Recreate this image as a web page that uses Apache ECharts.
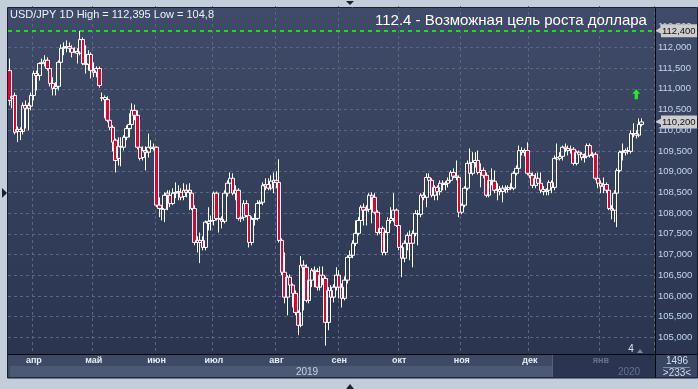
<!DOCTYPE html>
<html>
<head>
<meta charset="utf-8">
<script src="https://cdn.jsdelivr.net/npm/echarts@6/dist/echarts.min.js"></script>
<style>
html,body{margin:0;padding:0;background:#c4cedb;}
#chart{width:698px;height:389px;}
</style>
</head>
<body>
<div id="chart"></div>
<script>
// ---- data (USD/JPY daily candles) ----
const opens = [
111.44,110.77,110.84,109.97,110.02,109.97,110.60,110.53,110.58,110.84,
111.37,111.32,111.61,111.64,111.69,111.49,111.13,111.01,111.06,111.64,
111.98,112.00,112.02,111.98,111.88,111.90,111.86,112.19,111.61,111.59,
111.83,111.44,111.40,111.49,110.77,110.79,110.74,110.24,110.07,109.76,
109.32,109.61,109.59,109.83,110.04,110.14,110.48,110.36,109.59,109.34,
109.51,109.47,109.59,109.56,109.59,108.19,108.11,108.09,108.43,108.43,
108.23,108.48,108.50,108.50,108.40,108.55,108.50,108.48,108.11,107.29,
107.34,107.34,107.17,107.75,107.80,107.82,108.48,107.87,107.85,107.80,
108.48,108.72,108.84,108.48,108.55,107.87,107.90,108.23,107.94,107.29,
107.85,107.87,108.23,108.26,108.65,108.69,108.60,108.74,108.79,108.74,
107.34,106.57,105.97,106.45,106.26,106.06,105.60,105.29,106.74,106.69,
105.89,106.38,106.62,106.59,106.21,106.50,106.42,105.36,106.13,105.97,
106.21,106.50,106.21,105.94,106.38,106.93,106.98,107.27,107.51,107.82,
108.14,108.07,108.09,108.43,108.38,108.02,107.53,107.63,107.05,107.53,
107.82,107.87,108.07,107.70,107.17,106.91,107.27,107.46,107.27,107.51,
107.99,107.97,108.43,108.38,108.86,108.79,108.43,108.62,108.52,108.72,
108.69,108.72,108.79,108.98,108.89,108.86,108.02,108.19,108.60,109.20,
108.96,109.22,109.27,108.98,109.03,108.91,108.43,108.79,108.77,108.55,
108.57,108.52,108.60,108.57,108.62,108.60,108.96,109.08,109.51,109.47,
109.51,108.96,108.91,108.67,108.84,108.72,108.57,108.52,108.55,108.74,
108.62,109.30,109.32,109.37,109.59,109.56,109.51,109.54,109.20,109.47,
109.42,109.34,109.37,109.63,109.39,109.42,108.84,108.72,108.65,108.69,
108.55,108.11,108.07,108.48,109.03,109.47,109.47,109.51,109.49,109.92,
109.92,109.88,110.14];
const closes = [
110.72,110.82,109.95,110.02,109.97,110.60,110.53,110.60,110.84,111.37,
111.32,111.61,111.64,111.69,111.49,111.13,111.01,111.06,111.64,111.98,
112.00,112.02,111.98,111.88,111.90,111.86,112.19,111.61,111.59,111.83,
111.44,111.40,111.49,111.08,110.79,110.74,110.24,110.07,109.71,109.27,
109.61,109.59,109.83,110.04,110.14,110.48,110.36,109.59,109.32,109.51,
109.47,109.59,109.56,109.59,108.19,108.11,108.09,108.43,108.48,108.23,
108.48,108.50,108.52,108.38,108.55,108.50,108.55,108.11,107.29,107.34,
107.29,107.17,107.78,107.80,107.82,108.48,107.87,107.85,107.80,108.48,
108.72,108.84,108.48,108.55,107.87,107.90,108.23,107.94,107.29,107.85,
107.87,108.23,108.26,108.67,108.69,108.60,108.77,108.79,108.74,107.34,
106.57,105.97,106.45,106.26,106.06,105.60,105.29,106.74,106.69,105.89,
106.38,106.62,106.59,106.21,106.50,106.42,105.36,106.13,105.97,106.21,
106.50,106.21,105.94,106.38,106.93,106.98,107.27,107.51,107.82,108.14,
108.07,108.09,108.43,108.38,108.02,107.53,107.63,107.05,107.53,107.82,
107.87,108.07,107.70,107.17,106.91,107.27,107.46,107.27,107.51,107.99,
107.97,108.43,108.38,108.86,108.79,108.43,108.62,108.52,108.72,108.69,
108.72,108.79,108.98,108.89,108.86,108.02,108.19,108.60,109.20,108.96,
109.22,109.27,108.98,109.03,108.91,108.43,108.79,108.77,108.55,108.57,
108.52,108.60,108.57,108.62,108.60,108.96,109.08,109.51,109.47,109.51,
108.96,108.91,108.67,108.84,108.72,108.55,108.52,108.55,108.74,108.62,
109.32,109.34,109.37,109.59,109.56,109.51,109.54,109.20,109.47,109.42,
109.34,109.37,109.63,109.39,109.42,108.84,108.72,108.65,108.69,108.55,
108.11,108.07,108.48,109.03,109.47,109.49,109.51,109.49,109.92,109.90,
109.88,110.14,110.20];
const lows = [
110.60,110.53,109.90,109.71,109.76,109.90,110.04,110.00,110.48,110.72,
110.96,111.20,111.49,111.54,111.44,111.06,110.84,110.84,110.96,111.59,
111.81,111.88,111.88,111.76,111.86,111.61,111.81,111.57,111.37,111.44,
111.25,111.28,111.28,111.03,110.70,110.29,110.19,110.00,109.49,108.98,
109.15,109.13,109.51,109.76,109.83,110.07,110.24,109.54,109.27,109.27,
109.03,109.34,109.47,109.51,108.14,107.90,107.82,107.78,108.07,108.14,
108.19,108.36,108.31,108.31,108.31,108.38,108.07,108.07,107.22,107.05,
106.79,107.10,107.10,107.58,107.58,107.70,107.82,107.53,107.63,107.75,
108.40,108.67,108.43,108.31,107.82,107.78,107.82,107.90,107.17,107.22,
107.70,107.82,107.94,108.19,108.55,108.55,108.55,108.48,108.60,107.29,
106.50,105.82,105.53,106.13,105.72,105.53,105.05,105.24,105.65,105.84,
105.82,106.21,106.21,106.13,106.13,106.26,104.80,105.17,105.72,105.84,
106.13,105.94,105.72,105.89,106.30,106.62,106.91,107.20,107.46,107.58,
107.70,107.70,108.02,107.75,107.97,107.46,107.49,106.98,106.98,107.49,
107.75,107.78,107.66,107.10,106.45,106.81,107.10,106.86,106.69,107.44,
107.22,107.90,108.31,108.14,108.55,108.38,108.31,108.31,108.43,108.55,
108.55,108.62,108.74,108.84,108.79,107.90,107.97,108.14,108.55,108.91,
108.91,109.10,108.93,108.62,108.84,108.38,108.38,108.67,108.48,108.31,
108.43,108.26,108.48,108.50,108.55,108.55,108.91,109.03,109.39,109.37,
108.91,108.84,108.60,108.60,108.67,108.48,108.43,108.43,108.43,108.48,
108.55,109.15,109.27,109.27,109.47,109.39,109.44,109.15,109.15,109.34,
109.27,109.22,109.32,109.34,109.34,108.79,108.60,108.48,108.48,108.48,
108.07,107.85,107.78,107.66,108.98,109.27,109.39,109.42,109.44,109.83,
109.80,109.83,110.09];
const highs = [
111.73,110.96,110.91,110.09,110.07,110.67,110.72,110.67,110.91,111.44,
111.44,111.64,111.73,111.81,111.76,111.54,111.28,111.16,111.69,112.07,
112.12,112.17,112.12,112.05,112.00,111.98,112.40,112.24,112.05,111.93,
111.88,111.64,111.54,111.54,110.91,110.84,110.82,110.31,110.12,109.80,
109.83,109.83,109.88,110.12,110.41,110.65,110.62,110.48,109.63,109.61,
109.61,109.92,109.76,109.68,109.61,108.38,108.19,108.50,108.55,108.55,
108.60,108.74,108.67,108.60,108.72,108.69,108.72,108.55,108.19,107.44,
107.53,107.44,107.82,108.14,107.94,108.52,108.52,107.97,107.92,108.55,
108.79,108.98,108.96,108.67,108.60,107.99,108.31,108.31,107.99,107.92,
107.99,108.31,108.31,108.74,108.84,108.84,108.91,108.98,109.01,109.30,
107.39,107.05,106.50,106.52,106.30,106.13,105.65,106.96,106.86,106.76,
106.45,106.67,106.71,106.67,106.71,106.71,106.47,106.21,106.26,106.28,
106.69,106.62,106.30,106.47,106.98,107.10,107.34,107.82,107.90,108.19,
108.23,108.19,108.48,108.50,108.48,108.07,107.70,107.68,107.58,107.90,
108.14,108.48,108.11,107.78,107.22,107.34,107.53,107.58,107.58,108.07,
108.07,108.48,108.50,108.96,108.96,108.84,108.67,108.67,108.79,108.79,
108.77,108.86,109.03,109.08,109.27,108.91,108.23,108.65,109.27,109.56,
109.47,109.47,109.51,109.20,109.10,108.98,108.84,109.08,109.03,108.72,
108.65,108.67,108.67,108.67,108.72,109.01,109.15,109.63,109.59,109.56,
109.71,109.08,108.98,108.96,108.98,108.98,108.65,108.60,108.79,108.79,
109.39,109.68,109.47,109.63,109.68,109.63,109.63,109.59,109.51,109.51,
109.47,109.44,109.68,109.68,109.47,109.47,108.89,108.79,108.86,108.74,
108.60,108.19,108.55,109.08,109.51,109.68,109.56,109.59,110.00,110.17,
110.00,110.29,110.29];

const emptySlots = 4;                       // free space right of the last candle
const categories = Array.from({length: opens.length + emptySlots}, (_, i) => String(i));
const monthNames = ['апр','май','июн','июл','авг','сен','окт','ноя','дек','янв'];
const monthIdx   = [9, 31, 54, 75, 98, 121, 143, 166, 191, 217];
const yearLabels = ['2019', '2020'];
const targetLevel = 112.4;
const lastClose = closes[closes.length - 1];
const signalIndex = 230, signalValue = 110.87;
const headerText = 'USD/JPY 1D High = 112,395 Low = 104,8';
const titleText = '112.4 - Возможная цель роста доллара';
const yMin = 104.5, yMax = 113, yStep = 0.5;

const fmt = v => v.toFixed(3).replace('.', ',');
const FONT = '"Liberation Sans", Arial, sans-serif';

// split-line colours: only 105 .. 112 are drawn
const gridCol = '#5a6783';
const splitColors = [];
for (let v = yMin; v <= yMax + 1e-9; v += yStep) splitColors.push(v >= 104.9 && v <= 112.1 ? gridCol : 'rgba(0,0,0,0)');

const tagRich = {
  a: {color: '#cdcdcd', fontSize: 9, padding: [0, -1, 0, 0]},
  b: {backgroundColor: '#cdcdcd', color: '#111', fontSize: 9.5, fontFamily: FONT, padding: [2, 4, 1, 1]}
};

const txt = (x, y, text, fill, size, align) => ({
  type: 'text', z: 60, silent: true, x: x, y: y,
  style: {text: text, fill: fill, font: size + 'px ' + FONT, textAlign: align || 'left', align: align || 'left',
          textVerticalAlign: 'middle', verticalAlign: 'middle'}
});

const chart = echarts.init(document.getElementById('chart'), null, {renderer: 'canvas'});
const option = {
  animation: false,
  backgroundColor: '#c4cedb',
  grid: {left: 8, right: 44, top: 6, height: 352, containLabel: false},
  xAxis: [{
    type: 'category', data: categories, boundaryGap: true, position: 'bottom',
    axisLine: {show: false}, axisTick: {show: false}, axisLabel: {show: false},
    splitLine: {show: true, interval: (i) => monthIdx.includes(i),
      lineStyle: {color: gridCol, type: [3, 3], width: 1}}
  }, {
    type: 'category', data: categories, boundaryGap: true, position: 'bottom', z: 100,
    axisLine: {show: false}, axisTick: {show: false}, splitLine: {show: false},
    axisLabel: {
      show: true, interval: (i) => monthIdx.includes(i), margin: -2,
      formatter: (v) => monthNames[monthIdx.indexOf(Number(v))] || '',
      color: (v) => Number(v) >= monthIdx[monthIdx.length - 1] ? '#68738d' : '#e8edf5',
      fontSize: 9, fontWeight: 'bold', fontFamily: FONT
    }
  }],
  yAxis: {
    type: 'value', position: 'right', min: yMin, max: yMax, interval: yStep,
    axisLine: {show: false}, axisTick: {show: false},
    axisLabel: {margin: 4, color: '#c3d6f2', fontSize: 9.5, fontFamily: FONT,
      formatter: v => (v < 104.9 || v > 112.6) ? '' : fmt(v)},
    splitLine: {show: true, lineStyle: {color: splitColors, type: [3, 3], width: 1}}
  },
  series: [{
    type: 'candlestick', xAxisIndex: 0, yAxisIndex: 0,
    data: opens.map((o, i) => [o, closes[i], lows[i], highs[i]]),
    barWidth: 4,
    itemStyle: {color: 'rgba(0,0,0,0)', color0: '#e6002e', borderColor: '#ffffff', borderColor0: '#ffffff', borderWidth: 1},
    emphasis: {disabled: true},
    markLine: {
      silent: true, animation: false, symbol: ['none', 'none'],
      data: [
        {yAxis: targetLevel, lineStyle: {color: '#19e019', width: 2, type: [4, 4]},
         label: {show: true, position: 'end', distance: 1, formatter: '{a|◀}{b|' + fmt(targetLevel) + '}', rich: tagRich}},
        {yAxis: lastClose, lineStyle: {color: 'rgba(0,0,0,0)', width: 0.01},
         label: {show: true, position: 'end', distance: 1, formatter: '{a|◀}{b|' + fmt(lastClose) + '}', rich: tagRich}}
      ]
    },
    markPoint: {
      silent: true, animation: false,
      data: [{coord: [signalIndex, signalValue], symbol: 'path://M5 0 L10 5 L7 5 L7 11 L3 11 L3 5 L0 5 Z',
        symbolSize: [8, 10], itemStyle: {color: '#22ee22'}, label: {show: false}}]
    }
  }],
  graphic: [
    // panel background
    {type: 'rect', z: -1, silent: true, shape: {x: 8, y: 8, width: 689, height: 370},
     style: {fill: {type: 'linear', x: 0, y: 0, x2: 0, y2: 1,
       colorStops: [{offset: 0, color: '#3f4b68'}, {offset: 1, color: '#29334e'}]}}},
    // bottom bands
    {type: 'rect', z: 50, silent: true, shape: {x: 8, y: 355, width: 545, height: 11}, style: {fill: '#3e4a65'}},
    {type: 'rect', z: 50, silent: true, shape: {x: 10, y: 366, width: 543, height: 11}, style: {fill: '#4c5973'}},
    {type: 'rect', z: 50, silent: true, shape: {x: 8, y: 366, width: 2, height: 11}, style: {fill: '#3e4a65'}},
    {type: 'rect', z: 50, silent: true, shape: {x: 553, y: 355, width: 102, height: 22}, style: {fill: '#2b3551'}},
    {type: 'rect', z: 50, silent: true, shape: {x: 552, y: 355, width: 1, height: 22}, style: {fill: '#56627c'}},
    {type: 'rect', z: 50, silent: true, shape: {x: 656, y: 355, width: 41, height: 22}, style: {fill: '#394561'}},
    // frame lines
    {type: 'rect', z: 60, silent: true, shape: {x: 8, y: 354, width: 689, height: 1}, style: {fill: '#05070c'}},
    {type: 'rect', z: 60, silent: true, shape: {x: 655, y: 8, width: 1, height: 370}, style: {fill: '#05070c'}},
    {type: 'rect', z: 60, silent: true, shape: {x: 7.5, y: 7.5, width: 690, height: 370.5},
     style: {fill: 'none', stroke: '#1a2032', lineWidth: 1}},
    {type: 'rect', z: 60, silent: true, shape: {x: 663, y: 367, width: 27, height: 1}, style: {fill: '#7f8ca6'}},
    // texts
    txt(10, 15, headerText, '#eef2f8', 11),
    txt(375, 21, titleText, '#ffffff', 15),
    txt(307, 372, yearLabels[0], '#c8d3e6', 10, 'center'),
    txt(629, 372, yearLabels[1], '#66718b', 10, 'center'),
    txt(677, 361, '1496', '#d2ddf0', 10, 'center'),
    txt(677, 373, '>233<', '#d2ddf0', 10, 'center'),
    txt(631, 349, '4', '#e0e6f0', 10, 'center'),
    {type: 'polygon', z: 60, silent: true, shape: {points: [[637, 353], [640, 349], [643, 353]]}, style: {fill: '#7e889c'}},
    // small triangles on the outer frame
    {type: 'polygon', z: 60, silent: true, shape: {points: [[346, 1], [354, 1], [350, 5]]}, style: {fill: '#1a2030'}},
    {type: 'polygon', z: 60, silent: true, shape: {points: [[346, 389], [354, 389], [350, 384]]}, style: {fill: '#1a2030'}},
    {type: 'polygon', z: 60, silent: true, shape: {points: [[2, 188], [7, 193], [2, 198]]}, style: {fill: '#1a2030'}}
  ]
};
chart.setOption(option);
</script>
</body>
</html>
